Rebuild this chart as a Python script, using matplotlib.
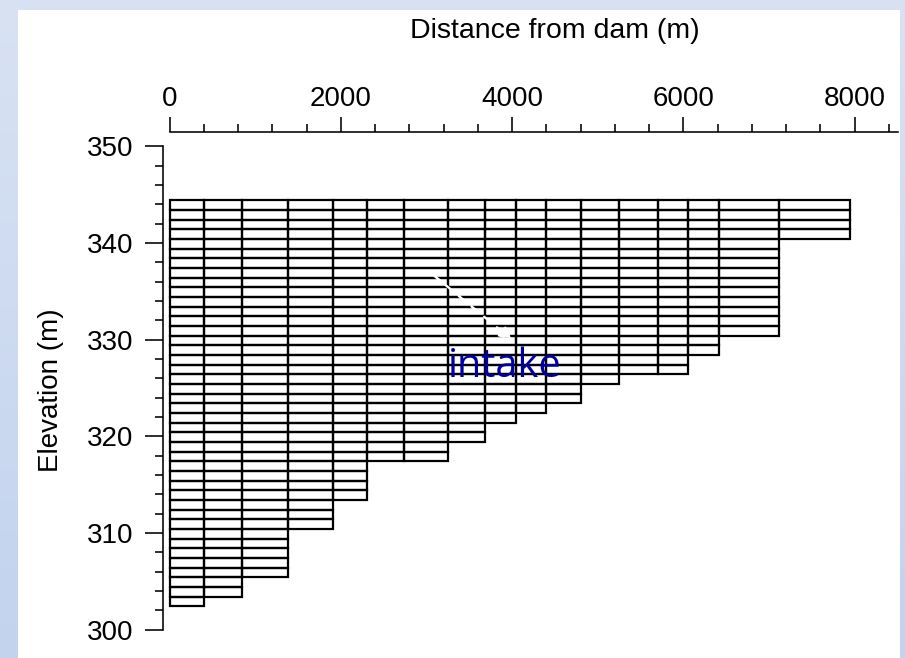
import numpy as np
import matplotlib
matplotlib.use("Agg")
import matplotlib.pyplot as plt
from matplotlib.patches import Rectangle
from matplotlib.ticker import MultipleLocator
from matplotlib.colors import LinearSegmentedColormap

plt.rcParams["font.family"] = ["Liberation Sans", "DejaVu Sans"]

# Segment boundaries along the reservoir (m from dam)
segment_edges = [0, 406, 850, 1384, 1913, 2303, 2739, 3256, 3679, 4047,
                 4392, 4800, 5254, 5709, 6053, 6412, 7111, 7948]
# Bottom elevation of the active layers in each segment (m)
segment_bottoms = [302.4, 303.4, 305.4, 310.4, 313.4, 317.4, 317.4, 319.4,
                   321.4, 322.4, 323.4, 325.4, 326.4, 326.4, 328.4, 330.4, 340.4]
grid_top = 344.4        # water surface / top of grid (m)
layer_thickness = 1.0   # vertical layer spacing (m)

x_ticks = [0, 2000, 4000, 6000, 8000]
y_ticks = [300, 310, 320, 330, 340, 350]
x_label = "Distance from dam (m)"
y_label = "Elevation (m)"
intake_label = "intake"

# Build every cell of the computational grid
cell_left, cell_width, cell_bottom = [], [], []
for i, bot in enumerate(segment_bottoms):
    left = segment_edges[i]
    width = segment_edges[i + 1] - segment_edges[i]
    n_layers = int(round((grid_top - bot) / layer_thickness))
    for k in range(n_layers):
        cell_left.append(left)
        cell_width.append(width)
        cell_bottom.append(bot + k * layer_thickness)

W, H = 905, 658
fig = plt.figure(figsize=(W / 100, H / 100), dpi=100)

# Slide-style background: soft blue gradient with a white panel
bg = fig.add_axes([0, 0, 1, 1], zorder=-10)
grad = np.linspace(0, 1, 256).reshape(-1, 1)
cmap = LinearSegmentedColormap.from_list("bgblue", ["#d8e2f3", "#c3d3ee"])
bg.imshow(grad, extent=[0, 1, 0, 1], aspect="auto", cmap=cmap, origin="upper")
bg.add_patch(Rectangle((18 / W, 0), (900 - 18) / W, (H - 10) / H,
                       transform=bg.transAxes, color="white", lw=0))
bg.set_xlim(0, 1)
bg.set_ylim(0, 1)
bg.axis("off")

ax = fig.add_axes([169.5 / W, (H - 629.5) / H, 728 / W, 483.2 / H])
ax.patch.set_alpha(0)

ax.bar(cell_left, [layer_thickness] * len(cell_left), width=cell_width,
       bottom=cell_bottom, align="edge", fill=False, edgecolor="black",
       linewidth=1.6, clip_on=False)

ax.set_xlim(0, 8500)
ax.set_ylim(300, 350)

ax.xaxis.tick_top()
ax.xaxis.set_label_position("top")
ax.spines["bottom"].set_visible(False)
ax.spines["right"].set_visible(False)
ax.spines["top"].set_position(("outward", 10.5))
ax.spines["left"].set_position(("outward", 5))
ax.spines["top"].set_bounds(0, 8500)
ax.spines["left"].set_bounds(300, 350)
for s in ("top", "left"):
    ax.spines[s].set_linewidth(1.15)

ax.set_xticks(x_ticks)
ax.set_yticks(y_ticks)
ax.xaxis.set_minor_locator(MultipleLocator(400))
ax.yaxis.set_minor_locator(MultipleLocator(2))
ax.tick_params(which="both", width=1.15, labelsize=20)
ax.tick_params(axis="x", which="major", length=11, pad=3)
ax.tick_params(axis="x", which="minor", length=5.5)
ax.tick_params(axis="y", which="major", length=13, pad=8)
ax.tick_params(axis="y", which="minor", length=6)

ax.set_xlabel(x_label, fontsize=20.5)
ax.xaxis.set_label_coords(0.529, 1.224)
ax.set_ylabel(y_label, fontsize=20)
ax.yaxis.set_label_coords(-0.145, 0.4957)

# Intake location marker
ax.annotate("", xy=(3997, 330.0), xytext=(3078, 336.7),
            arrowprops=dict(arrowstyle="-|>", color="white", lw=1.7,
                            linestyle=(0, (4, 3)), mutation_scale=18,
                            shrinkA=0, shrinkB=0))
ax.text(3250, 326.1, intake_label, color="#0000a0", fontsize=28.5,
        fontweight="medium", family=["Open Sans", "DejaVu Sans"],
        ha="left", va="baseline")

fig.savefig("out.png", dpi=100)
